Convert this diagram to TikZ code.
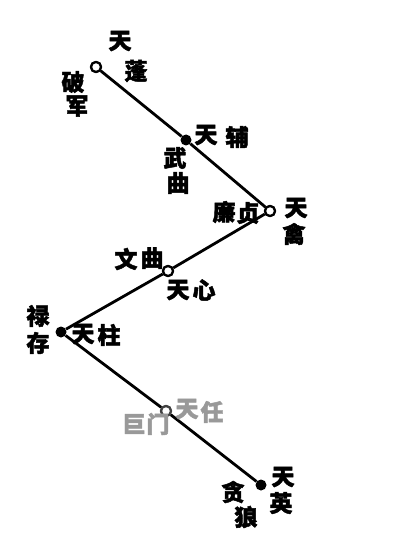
\documentclass[tikz,border=0pt]{standalone}
\usepackage{fontspec}
\newfontfamily\cjk{Noto Sans CJK SC}[FakeBold=2]
\begin{document}
\begin{tikzpicture}[x=1pt,y=-1pt,
  lab/.style={font=\cjk\bfseries\fontsize{23}{23}\selectfont, inner sep=0pt},
  faint/.style={lab, text=black!40},
  ring/.style={circle, draw, line width=2.2pt, fill=white, minimum size=10pt, inner sep=0pt},
  dot/.style={circle, fill, minimum size=11pt, inner sep=0pt},
  link/.style={line width=2.8pt}]
\useasboundingbox (0,0) rectangle (400,545);
\node[ring] (p1) at (96,67) {};
\node[dot]  (p2) at (186,140) {};
\node[ring] (p3) at (270,211) {};
\node[ring] (p4) at (168,271) {};
\node[dot]  (p5) at (61,332) {};
\node[ring, draw=black!75] (p6) at (166,411) {};
\node[dot]  (p7) at (261,485) {};
\draw[link] (p1) -- (p2) -- (p3) -- (p4) -- (p5) -- (p6) -- (p7);
\node[ring] at (p1) {};
\node[ring] at (p3) {};
\node[ring] at (p4) {};
\node[ring, draw=black!75] at (p6) {};
% labels
\node[lab] (t1a) at (120,41) {天};
\node[lab] (t1b) at (136,71) {蓬};
\node[lab] (s1a) at (73,82) {破};
\node[lab] (s1b) at (77,106) {军};
\node[lab] (t2a) at (206,135) {天};
\node[lab] (t2b) at (237,137) {辅};
\node[lab] (s2a) at (175,158) {武};
\node[lab] (s2b) at (178,183) {曲};
\node[lab] (s3a) at (224,212) {廉};
\node[lab] (s3b) at (248,213) {贞};
\node[lab] (t3a) at (296,208) {天};
\node[lab] (t3b) at (294,234) {禽};
\node[lab] (s4a) at (126,259) {文};
\node[lab] (s4b) at (152,258) {曲};
\node[lab] (t4a) at (178,290) {天};
\node[lab] (t4b) at (204,290) {心};
\node[lab] (s5a) at (38,316) {禄};
\node[lab] (s5b) at (38,343) {存};
\node[lab] (t5a) at (83,334) {天};
\node[lab] (t5b) at (109,335) {柱};
\node[faint] (t6a) at (187,409) {天};
\node[faint] (t6b) at (212,412) {任};
\node[faint] (s6a) at (134,424) {巨};
\node[faint] (s6b) at (158,424) {门};
\node[lab] (t7a) at (283,477) {天};
\node[lab] (t7b) at (281,503) {英};
\node[lab] (s7a) at (233,492) {贪};
\node[lab] (s7b) at (246,517) {狼};
\end{tikzpicture}
\end{document}
